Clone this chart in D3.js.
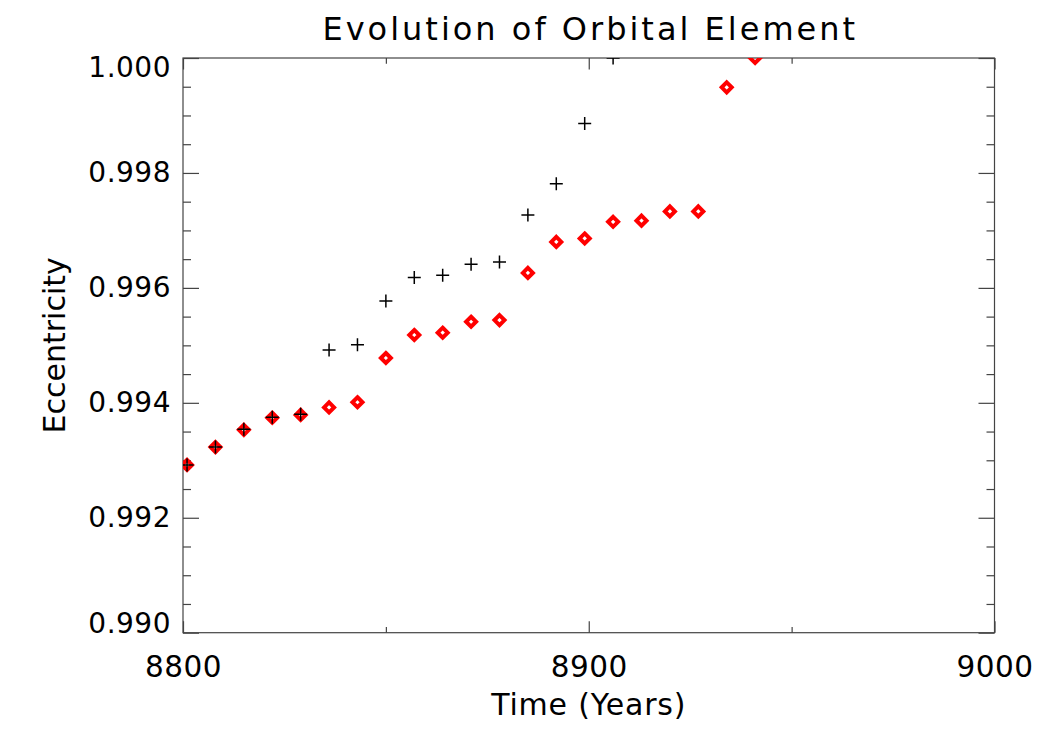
<!DOCTYPE html>
<html lang="en">
<head>
<meta charset="UTF-8">
<title>Evolution of Orbital Element</title>
<style>
  body { margin: 0; background: #fff; }
  text { font-family: "DejaVu Sans", sans-serif; fill: #000; }
  .eje path { display: none; }
  .eje line { stroke: #444; stroke-width: 1.2px; }
  .caja { fill: none; stroke: #444; stroke-width: 1.2px; }
</style>
<script src="https://cdn.jsdelivr.net/npm/d3@7"></script>
</head>
<body>
<script>
// data
var years = [8801, 8808, 8815, 8822, 8829, 8836, 8843, 8850, 8857, 8864, 8871,
             8878, 8885, 8892, 8899, 8906, 8913, 8920, 8927, 8934, 8941];
// red diamonds
var eccRed = [0.99292, 0.99323, 0.99353, 0.99374, 0.99379, 0.99392, 0.99401,
              0.99478, 0.99518, 0.99522, 0.99541, 0.99544, 0.99626, 0.99680,
              0.99686, 0.99715, 0.99717, 0.99733, 0.99733, 0.99949, 1.00000];
// black plus signs (later points lie above the plot window)
var eccBlack = [0.99292, 0.99323, 0.99354, 0.99375, 0.99380, 0.99492, 0.99501,
                0.99577, 0.99618, 0.99622, 0.99641, 0.99645, 0.99727, 0.99781,
                0.99886, 1.00000];
var xMajor = [8800, 8900, 9000];
var xMinor = [8850, 8950];
var yMajor = [0.990, 0.992, 0.994, 0.996, 0.998, 1.000];
var yMinor = d3.range(0, 21).map(function(i) { return 0.990 + i * 0.0005; })
               .filter(function(v, i) { return i % 4 !== 0; });

var W = 1050, H = 750;
var izq = 183, dch = 994.5, sup = 58, inf = 632.7;

var x = d3.scaleLinear().domain([8800, 9000]).range([izq, dch]);
var y = d3.scaleLinear().domain([0.990, 1.000]).range([inf, sup]);

var svg = d3.select("body").append("svg")
  .attr("width", W).attr("height", H);

svg.append("defs").append("clipPath").attr("id", "zona")
  .append("rect")
  .attr("x", izq).attr("y", sup)
  .attr("width", dch - izq).attr("height", inf - sup);

// box
svg.append("rect").attr("class", "caja")
  .attr("x", izq).attr("y", sup)
  .attr("width", dch - izq).attr("height", inf - sup);

var majX = 11.5, minX = 5.7, majY = 16, minY = 8;

// bottom axis
var gb = svg.append("g").attr("class", "eje")
  .attr("transform", "translate(0," + inf + ")")
  .call(d3.axisBottom(x).tickValues(xMajor).tickSize(-majX).tickPadding(23)
        .tickFormat(d3.format("d")));
gb.selectAll("text").style("font-size", "29.5px").style("letter-spacing", "0.5px");
svg.append("g").attr("class", "eje")
  .attr("transform", "translate(0," + inf + ")")
  .call(d3.axisBottom(x).tickValues(xMinor).tickSize(-minX).tickFormat(""));

// top axis
svg.append("g").attr("class", "eje")
  .attr("transform", "translate(0," + sup + ")")
  .call(d3.axisTop(x).tickValues(xMajor).tickSize(-majX).tickFormat(""));
svg.append("g").attr("class", "eje")
  .attr("transform", "translate(0," + sup + ")")
  .call(d3.axisTop(x).tickValues(xMinor).tickSize(-minX).tickFormat(""));

// left axis
var gl = svg.append("g").attr("class", "eje")
  .attr("transform", "translate(" + izq + ",0)")
  .call(d3.axisLeft(y).tickValues(yMajor).tickSize(-majY).tickPadding(12)
        .tickFormat(d3.format(".3f")));
gl.selectAll("text").style("font-size", "28px").style("letter-spacing", "0.5px")
  .attr("y", function(d) {
    var p = y(d), c = Math.max(sup + 10, Math.min(inf - 9, p));
    return c - p;
  });
svg.append("g").attr("class", "eje")
  .attr("transform", "translate(" + izq + ",0)")
  .call(d3.axisLeft(y).tickValues(yMinor).tickSize(-minY).tickFormat(""));

// right axis
svg.append("g").attr("class", "eje")
  .attr("transform", "translate(" + dch + ",0)")
  .call(d3.axisRight(y).tickValues(yMajor).tickSize(-majY).tickFormat(""));
svg.append("g").attr("class", "eje")
  .attr("transform", "translate(" + dch + ",0)")
  .call(d3.axisRight(y).tickValues(yMinor).tickSize(-minY).tickFormat(""));

// titles
svg.append("text").attr("x", (izq + dch) / 2 + 1.5).attr("y", 40)
  .attr("text-anchor", "middle").style("font-size", "32px")
  .style("letter-spacing", "3px")
  .text("Evolution of Orbital Element");
svg.append("text").attr("x", (izq + dch) / 2).attr("y", 715)
  .attr("text-anchor", "middle").style("font-size", "30px")
  .style("letter-spacing", "0.8px")
  .text("Time (Years)");
svg.append("text")
  .attr("transform", "translate(65," + (sup + inf) / 2 + ") rotate(-90)")
  .attr("text-anchor", "middle").style("font-size", "30px")
  .text("Eccentricity");

// markers
var r = 5, c = 6.5;
var diamante = "M0," + (-r) + "L" + r + ",0L0," + r + "L" + (-r) + ",0Z";
var cruz = "M" + (-c) + ",0H" + c + "M0," + (-c) + "V" + c;

var puntos = svg.append("g").attr("clip-path", "url(#zona)");

puntos.selectAll(".rojo")
  .data(eccRed)
  .enter().append("path")
  .attr("class", "rojo")
  .attr("d", diamante)
  .attr("transform", function(d, i) { return "translate(" + x(years[i]) + "," + y(d) + ")"; })
  .attr("fill", "none").attr("stroke", "#ff0000").attr("stroke-width", 4);

puntos.selectAll(".negro")
  .data(eccBlack)
  .enter().append("path")
  .attr("class", "negro")
  .attr("d", cruz)
  .attr("transform", function(d, i) { return "translate(" + x(years[i]) + "," + y(d) + ")"; })
  .attr("fill", "none").attr("stroke", "#000").attr("stroke-width", 1.5);
</script>
</body>
</html>
